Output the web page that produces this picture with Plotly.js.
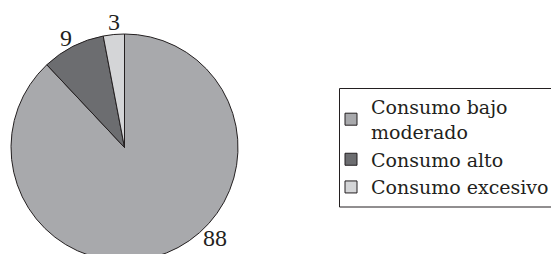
<!DOCTYPE html>
<html>
<head>
<meta charset="utf-8">
<script src="https://cdn.plot.ly/plotly-3.0.1.min.js"></script>
<style>
html, body { margin: 0; padding: 0; overflow: hidden; background: #fff; }
#chart { width: 551px; height: 300px; }
</style>
</head>
<body>
<div id="chart"></div>
<script>
const categories = ["Consumo bajo<br>moderado", "Consumo alto", "Consumo excesivo"];
const values = [88, 9, 3];
const colors = ["#a8a9ac", "#6c6d70", "#d4d5d7"];
const labelPos = [[215, 238], [66, 38], [114, 22]];

const W = 551, H = 300;
const px = x => x / W;
const py = y => (H - y) / H;
const serif = "'Liberation Serif', 'Times New Roman', Times, serif";

const trace = {
  type: "pie",
  labels: categories,
  values: values,
  sort: false,
  direction: "clockwise",
  rotation: 0,
  marker: { colors: colors, line: { color: "#231f20", width: 1 } },
  textinfo: "none",
  hoverinfo: "none",
  domain: { x: [px(11), px(238)], y: [py(261), py(34)] }
};

const layout = {
  width: W,
  height: H,
  margin: { l: 0, r: 0, t: 0, b: 0, autoexpand: false },
  paper_bgcolor: "#ffffff",
  showlegend: true,
  legend: {
    x: px(331), xanchor: "left",
    y: py(88), yanchor: "top",
    font: { family: "'DejaVu Serif', serif", size: 19, color: "#231f20" },
    bgcolor: "rgba(0,0,0,0)",
    borderwidth: 0,
    traceorder: "normal"
  },
  shapes: [{
    type: "rect", xref: "paper", yref: "paper",
    x0: px(339.5), x1: 1.02, y0: py(207), y1: py(88.5),
    line: { color: "#231f20", width: 1 }, fillcolor: "rgba(0,0,0,0)"
  }],
  annotations: values.map((v, i) => ({
    xref: "paper", yref: "paper",
    x: px(labelPos[i][0]), y: py(labelPos[i][1]),
    xanchor: "center", yanchor: "middle",
    text: String(v), showarrow: false,
    font: { family: serif, size: 24, color: "#231f20" }
  }))
};

Plotly.newPlot("chart", [trace], layout, { displayModeBar: false, staticPlot: true });
</script>
</body>
</html>
